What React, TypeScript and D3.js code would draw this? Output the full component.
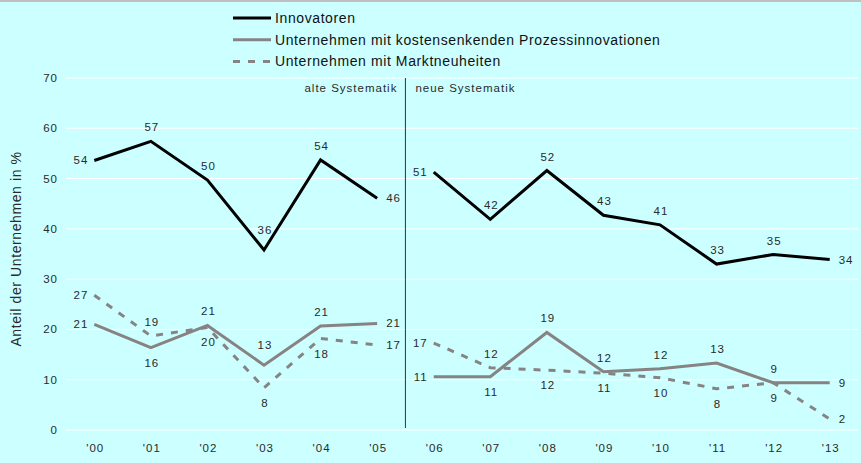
import React from "react";
import * as d3 from "d3";

const years = ["'00", "'01", "'02", "'03", "'04", "'05", "'06", "'07", "'08", "'09", "'10", "'11", "'12", "'13"];
const innovatoren = [53.6, 57.4, 49.7, 35.8, 53.7, 46.1, 51.3, 41.9, 51.6, 42.7, 40.8, 33.0, 34.9, 33.9];
const prozess = [21.0, 16.4, 20.8, 12.9, 20.7, 21.2, 10.6, 10.6, 19.4, 11.6, 12.2, 13.3, 9.4, 9.4];
const markt = [26.8, 18.7, 20.4, 8.4, 18.2, 16.9, 17.3, 12.4, 11.9, 11.3, 10.4, 8.2, 9.4, 2.2];
const yTicks = [0, 10, 20, 30, 40, 50, 60, 70];
const seriesNames = ["Innovatoren", "Unternehmen mit kostensenkenden Prozessinnovationen", "Unternehmen mit Marktneuheiten"];
// label placement: a = above, A = far above, b = below, l = left, r = right
const innovLabelPos = ["l", "a", "a", "A", "a", "r", "l", "a", "a", "a", "a", "a", "a", "r"];
const prozessLabelPos = ["l", "b", "a", "A", "a", "r", "l", "b", "a", "a", "a", "a", "a", "r"];
const marktLabelPos = ["l", "a", "b", "b", "b", "r", "l", "a", "b", "b", "b", "b", "b", "r"];

const W = 861;
const H = 463;
const FONT = "Liberation Sans, Arial, sans-serif";
const GRAY = "#878383";
const TEXT = "#2a2a2a";
const SMALL = { fontSize: 11.5, letterSpacing: 1.0, fontFamily: FONT, fill: TEXT } as const;

export default function App() {
  const x = d3.scalePoint<string>().domain(years).range([66, 858]).padding(0.5);
  const y = d3.scaleLinear().domain([0, 70]).range([430, 78]);
  const step = x.step();
  const sepX = 66 + 6 * step;

  const seg = (vals: number[]) => {
    const idx = vals.map((_, i) => i);
    const l = d3
      .line<number>()
      .x((i) => x(years[i]) as number)
      .y((i) => y(vals[i]));
    return [l(idx.slice(0, 6)) as string, l(idx.slice(6)) as string];
  };

  const series = [
    { vals: innovatoren, color: "#000", dash: undefined as string | undefined, pos: innovLabelPos },
    { vals: prozess, color: GRAY, dash: undefined as string | undefined, pos: prozessLabelPos },
    { vals: markt, color: GRAY, dash: "7,8", pos: marktLabelPos },
  ];

  const labelFor = (v: number, i: number, p: string, k: string) => {
    const px = x(years[i]) as number;
    const py = y(v);
    let lx = px + 1;
    let ly = py;
    let anchor: "start" | "middle" | "end" = "middle";
    if (p === "a") ly = py - 14;
    else if (p === "A") ly = py - 20;
    else if (p === "b") ly = py + 15;
    else if (p === "l") {
      lx = px - 6;
      anchor = "end";
    } else {
      lx = px + 9;
      anchor = "start";
    }
    return (
      <text key={k} x={lx} y={ly} dy="0.35em" textAnchor={anchor} {...SMALL}>
        {Math.round(v)}
      </text>
    );
  };

  return (
    <svg width={W} height={H} style={{ position: "absolute", left: 0, top: 0 }}>
      <rect x={0} y={0} width={W} height={H} fill="#CCFFFF" />
      <rect x={0} y={0} width={W} height={2} fill="#C0C0C0" />

      {yTicks.map((t) => (
        <g key={t}>
          <line x1={66} x2={858} y1={y(t)} y2={y(t)} stroke="#fff" strokeWidth={1} />
          <text x={58} y={y(t)} dy="0.35em" textAnchor="end" {...SMALL}>
            {t}
          </text>
        </g>
      ))}

      {years.map((yr) => (
        <text key={yr} x={(x(yr) as number) + 1} y={448} dy="0.35em" textAnchor="middle" {...SMALL}>
          {yr}
        </text>
      ))}

      <text
        transform={`translate(16,${(y(0) + y(70)) / 2 - 5}) rotate(-90)`}
        textAnchor="middle"
        dy="0.35em"
        fontSize={14}
        letterSpacing={0.6}
        fill={TEXT}
        fontFamily={FONT}
      >
        Anteil der Unternehmen in %
      </text>

      <line x1={sepX} x2={sepX} y1={78} y2={428} stroke="#333" strokeWidth={1} />
      <text x={sepX - 8} y={88} dy="0.35em" textAnchor="end" {...SMALL}>
        alte Systematik
      </text>
      <text x={sepX + 10} y={88} dy="0.35em" textAnchor="start" {...SMALL}>
        neue Systematik
      </text>

      {series.map((s, si) =>
        seg(s.vals).map((d, j) => (
          <path key={`${si}-${j}`} d={d} fill="none" stroke={s.color} strokeWidth={3} strokeDasharray={s.dash} strokeLinejoin="miter" />
        ))
      )}

      {series.map((s, si) => s.vals.map((v, i) => labelFor(v, i, s.pos[i], `l${si}-${i}`)))}

      {seriesNames.map((n, i) => {
        const ly = 18 + i * 21.7;
        const s = series[i];
        return (
          <g key={n}>
            <line x1={233} x2={271} y1={ly} y2={ly} stroke={s.color} strokeWidth={3} strokeDasharray={s.dash} />
            <text x={275} y={ly} dy="0.35em" fontSize={14} letterSpacing={0.6} fill="#111" fontFamily={FONT}>
              {n}
            </text>
          </g>
        );
      })}
    </svg>
  );
}
